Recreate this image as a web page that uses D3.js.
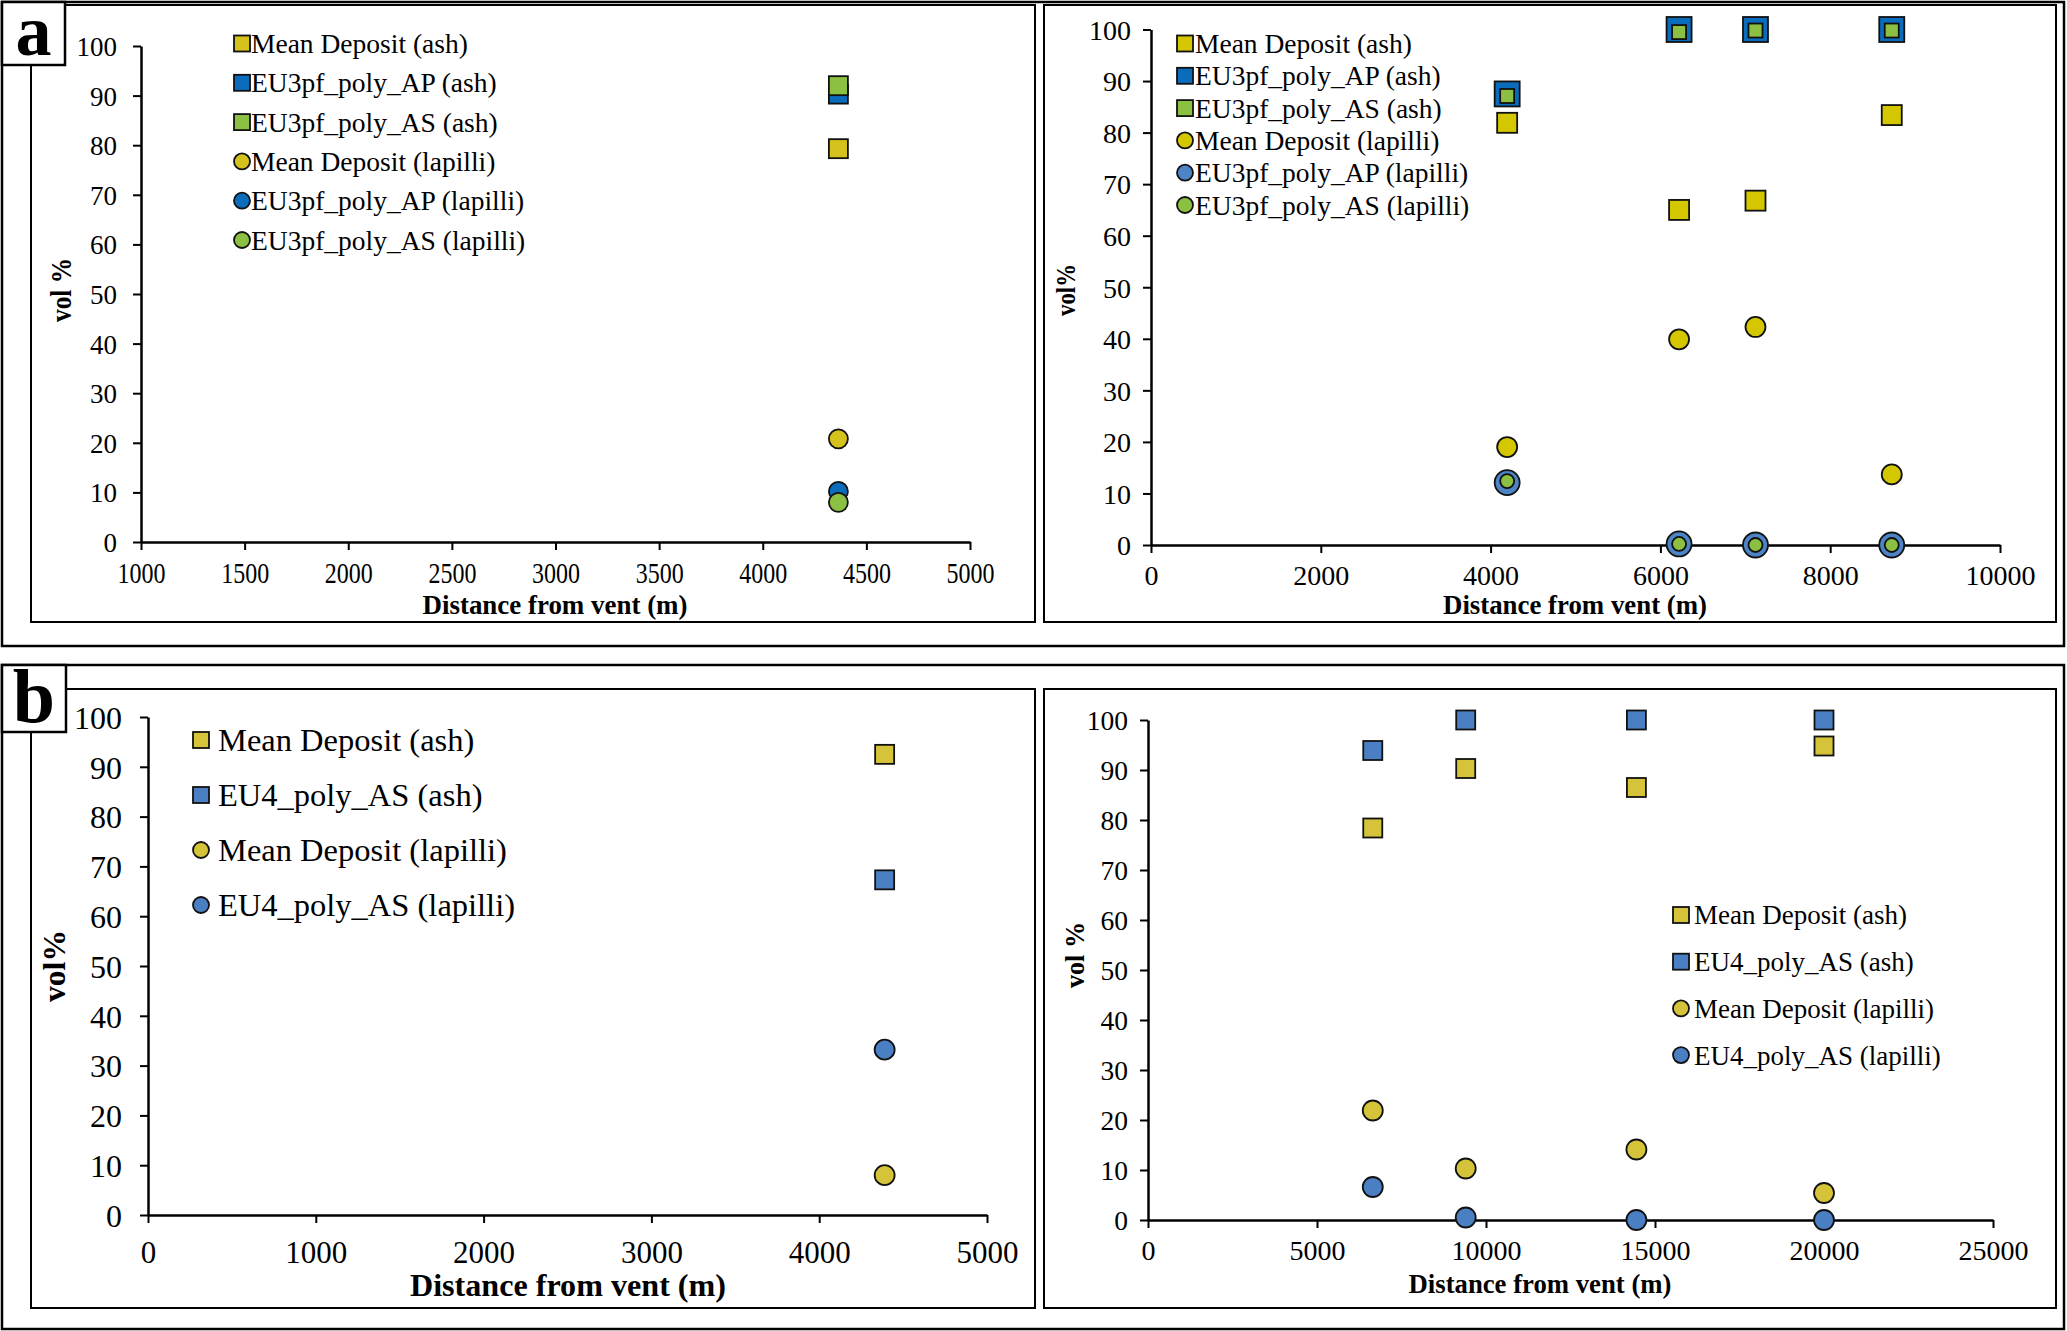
<!DOCTYPE html>
<html><head><meta charset="utf-8">
<script src="https://cdn.jsdelivr.net/npm/d3@7"></script>
<style>
body{margin:0;background:#fff}
svg{display:block}
text{font-family:"Liberation Serif","Times New Roman",serif;fill:#000}
</style>
</head><body>
<script>
// ---------------- data ----------------
const aLeftDist = [4365];
const aLeftMeanAsh = [79.3];
const aLeftApAsh = [90.3];
const aLeftAsAsh = [92.0];
const aLeftMeanLapilli = [20.8];
const aLeftApLapilli = [10.2];
const aLeftAsLapilli = [8.0];

const aRightDist = [4195, 6220, 7120, 8725];
const aRightMeanAsh = [81.9, 65.0, 66.8, 83.4];
const aRightApAsh = [87.5, 100, 100, 100];
const aRightAsAsh = [87.1, 99.5, 99.8, 99.8];
const aRightMeanLapilli = [19.0, 39.9, 42.3, 13.7];
const aRightApLapilli = [12.1, 0.2, 0, 0];
const aRightAsLapilli = [12.4, 0.2, 0, 0];

const bLeftDist = [4390];
const bLeftMeanAsh = [92.5];
const bLeftEu4Ash = [67.3];
const bLeftMeanLapilli = [8.0];
const bLeftEu4Lapilli = [33.2];

const bRightDist = [6650, 9400, 14450, 20000];
const bRightMeanAsh = [78.4, 90.3, 86.5, 94.8];
const bRightEu4Ash = [93.9, 100, 100, 100];
const bRightMeanLapilli = [21.9, 10.3, 14.1, 5.4];
const bRightEu4Lapilli = [6.6, 0.5, 0, 0];

const yTickValues = [0, 10, 20, 30, 40, 50, 60, 70, 80, 90, 100];
const aLeftXTicks = [1000, 1500, 2000, 2500, 3000, 3500, 4000, 4500, 5000];
const aRightXTicks = [0, 2000, 4000, 6000, 8000, 10000];
const bLeftXTicks = [0, 1000, 2000, 3000, 4000, 5000];
const bRightXTicks = [0, 5000, 10000, 15000, 20000, 25000];

const legendNamesA = ["Mean Deposit (ash)", "EU3pf_poly_AP (ash)", "EU3pf_poly_AS (ash)",
                      "Mean Deposit (lapilli)", "EU3pf_poly_AP (lapilli)", "EU3pf_poly_AS (lapilli)"];
const legendNamesB = ["Mean Deposit (ash)", "EU4_poly_AS (ash)", "Mean Deposit (lapilli)", "EU4_poly_AS (lapilli)"];
const xTitle = "Distance from  vent (m)";

// ---------------- colours ----------------
const cYellowA = "#d6c21c", cBlueA = "#0b6cbc", cGreenA = "#8cc043";
const cYellowAR = "#d4c700", cBlueLapAR = "#4c84c6";
const cYellowB = "#d5c43a", cBlueB = "#4a80c3";

const W = 2067, H = 1331;
const svg = d3.select("body").append("svg").attr("width", W).attr("height", H);
svg.append("rect").attr("width", W).attr("height", H).attr("fill", "#fff");

// ---------------- frames ----------------
function frame(x0, y0, x1, y1, sw) {
  svg.append("rect").attr("x", x0).attr("y", y0).attr("width", x1 - x0).attr("height", y1 - y0)
    .attr("fill", "none").attr("stroke", "#000").attr("stroke-width", sw);
}
frame(2, 2, 2064, 646, 2.5);
frame(31, 5, 1035, 622, 2);
frame(1044, 5, 2056, 622, 2);
frame(2, 665, 2064, 1329, 2.5);
frame(31, 689, 1035, 1308, 2);
frame(1044, 689, 2056, 1308, 2);

function drawMarker(g, shape, cx, cy, size, fill) {
  if (shape === "sq") {
    g.append("rect").attr("x", cx - size / 2).attr("y", cy - size / 2)
      .attr("width", size).attr("height", size)
      .attr("fill", fill).attr("stroke", "#111").attr("stroke-width", 1.8);
  } else {
    g.append("circle").attr("cx", cx).attr("cy", cy).attr("r", size / 2)
      .attr("fill", fill).attr("stroke", "#111").attr("stroke-width", 1.8);
  }
}

function drawPanel(p) {
  const x = d3.scaleLinear().domain(p.xDomain).range(p.xRange);
  const y = d3.scaleLinear().domain([0, 100]).range(p.yRange);
  const g = svg.append("g");

  // y axis
  const ya = g.append("g").attr("transform", `translate(${p.xRange[0]},0)`)
    .call(d3.axisLeft(y).tickValues(yTickValues).tickSize(8).tickSizeOuter(0).tickFormat(d3.format("d")));
  ya.attr("font-family", null).attr("font-size", null);
  ya.select(".domain").attr("stroke", "#000").attr("stroke-width", 2.5);
  ya.selectAll(".tick line").attr("stroke", "#000").attr("stroke-width", 2);
  ya.selectAll(".tick text").attr("x", -p.yLabGap).attr("dy", "0.35em")
    .attr("font-size", p.yTickFont).attr("fill", "#000");

  // x axis
  const xa = g.append("g").attr("transform", `translate(0,${p.yRange[0]})`)
    .call(d3.axisBottom(x).tickValues(p.xTicks).tickSize(8).tickSizeOuter(0).tickFormat(d3.format("d")));
  xa.attr("font-family", null).attr("font-size", null);
  xa.select(".domain").attr("stroke", "#000").attr("stroke-width", 2.5);
  xa.selectAll(".tick line").attr("stroke", "#000").attr("stroke-width", 2);
  const xt = xa.selectAll(".tick text").attr("y", p.xLabGap).attr("dy", "0.35em")
    .attr("font-size", p.xTickFont).attr("fill", "#000");
  if (p.xCharW) {
    xt.attr("textLength", d => String(d).length * p.xCharW).attr("lengthAdjust", "spacingAndGlyphs");
  }

  // axis titles
  g.append("text").attr("x", p.xTitle[0]).attr("y", p.xTitle[1]).attr("text-anchor", "middle")
    .attr("font-weight", "bold").attr("font-size", p.xTitle[2])
    .attr("textLength", p.xTitle[3]).attr("lengthAdjust", "spacingAndGlyphs").text(xTitle);
  g.append("text").attr("transform", `translate(${p.yTitle[0]},${p.yTitle[1]}) rotate(-90)`)
    .attr("text-anchor", "middle").attr("dy", "0.35em")
    .attr("font-weight", "bold").attr("font-size", p.yTitle[2])
    .attr("textLength", p.yTitle[3]).attr("lengthAdjust", "spacingAndGlyphs").text(p.yTitle[4]);

  // data points
  const pts = g.append("g");
  p.series.forEach(s => {
    s.ys.forEach((v, i) => {
      drawMarker(pts, s.shape, x(s.xs[i]), y(v), s.size, s.fill);
    });
  });

  // legend
  const lg = g.append("g");
  p.series.forEach((s, i) => {
    const cy = p.leg.y0 + i * p.leg.dy;
    drawMarker(lg, s.shape, p.leg.mx, cy, p.leg.ms, s.fill);
    lg.append("text").attr("x", p.leg.tx).attr("y", cy).attr("dy", "0.35em")
      .attr("font-size", p.leg.font).text(s.name);
  });
}

// ---------------- panels ----------------
drawPanel({
  xDomain: [1000, 5000], xRange: [141, 970], yRange: [542, 46], xTicks: aLeftXTicks,
  yLabGap: 24, yTickFont: 27, xLabGap: 30, xTickFont: 30, xCharW: 12,
  xTitle: [555, 614, 28, 265], yTitle: [60, 290, 30, 64, "vol %"],
  leg: { mx: 242, tx: 251, y0: 43.5, dy: 39.3, ms: 16, font: 27.5 },
  series: [
    { name: legendNamesA[0], xs: aLeftDist, ys: aLeftMeanAsh, shape: "sq", size: 19, fill: cYellowA },
    { name: legendNamesA[1], xs: aLeftDist, ys: aLeftApAsh, shape: "sq", size: 19, fill: cBlueA },
    { name: legendNamesA[2], xs: aLeftDist, ys: aLeftAsAsh, shape: "sq", size: 19, fill: cGreenA },
    { name: legendNamesA[3], xs: aLeftDist, ys: aLeftMeanLapilli, shape: "ci", size: 19, fill: cYellowA },
    { name: legendNamesA[4], xs: aLeftDist, ys: aLeftApLapilli, shape: "ci", size: 19, fill: cBlueA },
    { name: legendNamesA[5], xs: aLeftDist, ys: aLeftAsLapilli, shape: "ci", size: 19, fill: cGreenA }
  ]
});

drawPanel({
  xDomain: [0, 10000], xRange: [1151, 2000], yRange: [545, 29.5], xTicks: aRightXTicks,
  yLabGap: 20, yTickFont: 28, xLabGap: 30, xTickFont: 28,
  xTitle: [1575, 614, 28, 264], yTitle: [1065, 290, 28, 52, "vol%"],
  leg: { mx: 1185, tx: 1195, y0: 43.5, dy: 32.3, ms: 16, font: 27.5 },
  series: [
    { name: legendNamesA[0], xs: aRightDist, ys: aRightMeanAsh, shape: "sq", size: 20, fill: cYellowAR },
    { name: legendNamesA[1], xs: aRightDist, ys: aRightApAsh, shape: "sq", size: 25, fill: cBlueA },
    { name: legendNamesA[2], xs: aRightDist, ys: aRightAsAsh, shape: "sq", size: 14, fill: cGreenA },
    { name: legendNamesA[3], xs: aRightDist, ys: aRightMeanLapilli, shape: "ci", size: 20, fill: cYellowAR },
    { name: legendNamesA[4], xs: aRightDist, ys: aRightApLapilli, shape: "ci", size: 25, fill: cBlueLapAR },
    { name: legendNamesA[5], xs: aRightDist, ys: aRightAsLapilli, shape: "ci", size: 14, fill: cGreenA }
  ]
});

drawPanel({
  xDomain: [0, 5000], xRange: [148, 987], yRange: [1215, 717], xTicks: bLeftXTicks,
  yLabGap: 26, yTickFont: 32, xLabGap: 37, xTickFont: 31,
  xTitle: [568, 1296, 31, 316], yTitle: [54, 966, 32, 72, "vol%"],
  leg: { mx: 201, tx: 218, y0: 740, dy: 55, ms: 16, font: 32.5 },
  series: [
    { name: legendNamesB[0], xs: bLeftDist, ys: bLeftMeanAsh, shape: "sq", size: 19, fill: cYellowB },
    { name: legendNamesB[1], xs: bLeftDist, ys: bLeftEu4Ash, shape: "sq", size: 19, fill: cBlueB },
    { name: legendNamesB[2], xs: bLeftDist, ys: bLeftMeanLapilli, shape: "ci", size: 20, fill: cYellowB },
    { name: legendNamesB[3], xs: bLeftDist, ys: bLeftEu4Lapilli, shape: "ci", size: 20, fill: cBlueB }
  ]
});

drawPanel({
  xDomain: [0, 25000], xRange: [1148, 1993], yRange: [1220, 720], xTicks: bRightXTicks,
  yLabGap: 20, yTickFont: 27.5, xLabGap: 30, xTickFont: 28,
  xTitle: [1540, 1293, 28, 263], yTitle: [1074, 955, 28, 66, "vol %"],
  leg: { mx: 1681, tx: 1694, y0: 915, dy: 46.7, ms: 16, font: 27 },
  series: [
    { name: legendNamesB[0], xs: bRightDist, ys: bRightMeanAsh, shape: "sq", size: 19, fill: cYellowB },
    { name: legendNamesB[1], xs: bRightDist, ys: bRightEu4Ash, shape: "sq", size: 19, fill: cBlueB },
    { name: legendNamesB[2], xs: bRightDist, ys: bRightMeanLapilli, shape: "ci", size: 20, fill: cYellowB },
    { name: legendNamesB[3], xs: bRightDist, ys: bRightEu4Lapilli, shape: "ci", size: 20, fill: cBlueB }
  ]
});

// ---------------- panel letters ----------------
function letterBox(x0, y0, x1, y1, letter, size) {
  svg.append("rect").attr("x", x0).attr("y", y0).attr("width", x1 - x0).attr("height", y1 - y0)
    .attr("fill", "#fff").attr("stroke", "#000").attr("stroke-width", 2.5);
  svg.append("text").attr("x", (x0 + x1) / 2).attr("y", y1 - 10).attr("text-anchor", "middle")
    .attr("font-weight", "bold").attr("font-size", size).text(letter);
}
letterBox(2, 2, 65, 65, "a", 72);
letterBox(2, 665, 66, 732, "b", 76);
</script>
</body></html>
